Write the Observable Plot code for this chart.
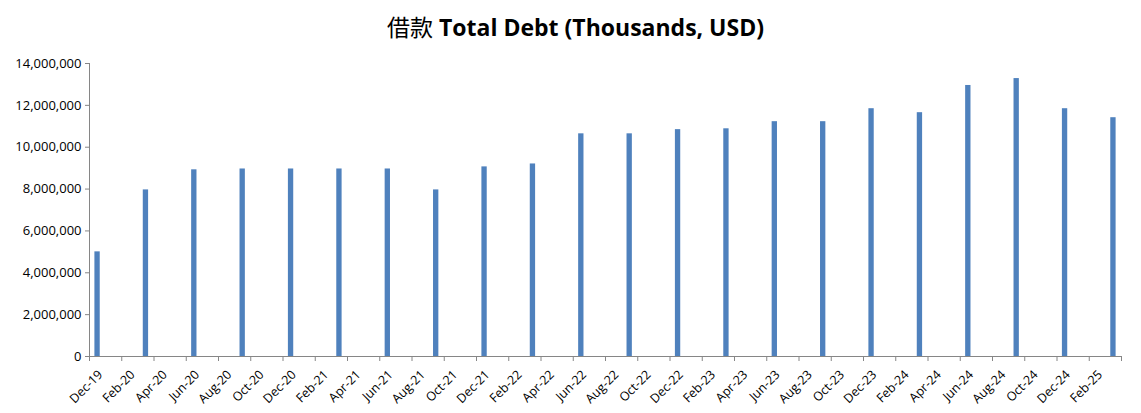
<!DOCTYPE html>
<html>
<head>
<meta charset="utf-8">
<script src="https://cdn.jsdelivr.net/npm/d3@7"></script>
<script src="https://cdn.jsdelivr.net/npm/@observablehq/plot@0.6"></script>
<style>
  html, body { margin: 0; padding: 0; background: #fff; }
  #wrap { width: 1141px; height: 413px; overflow: hidden; }
  #title { height: 52px; box-sizing: border-box; padding-top: 11px; text-align: center;
    font-family: "Open Sans", sans-serif; font-weight: bold; font-size: 23px; color: #000; line-height: 30px; padding-left: 10px; }
  #title .cjk { font-family: "Noto Sans CJK SC", sans-serif; font-weight: normal; }
</style>
</head>
<body>
<div id="wrap">
  <div id="title"><span class="cjk">借款</span> Total Debt (Thousands, USD)</div>
  <div id="chart"></div>
</div>
<script>
// Quarterly observations
const quarters = ["Dec-19","Mar-20","Jun-20","Sep-20","Dec-20","Mar-21","Jun-21","Sep-21",
  "Dec-21","Mar-22","Jun-22","Sep-22","Dec-22","Mar-23","Jun-23","Sep-23",
  "Dec-23","Mar-24","Jun-24","Sep-24","Dec-24","Mar-25"];
const totalDebt = [5000000, 7960000, 8920000, 8960000, 8960000, 8960000, 8960000, 7960000,
  9060000, 9200000, 10640000, 10640000, 10840000, 10880000, 11220000, 11220000,
  11840000, 11650000, 12950000, 13280000, 11840000, 11410000];
// Axis tick labels (every two months)
const xTickLabels = ["Dec-19","Feb-20","Apr-20","Jun-20","Aug-20","Oct-20","Dec-20","Feb-21",
  "Apr-21","Jun-21","Aug-21","Oct-21","Dec-21","Feb-22","Apr-22","Jun-22","Aug-22","Oct-22",
  "Dec-22","Feb-23","Apr-23","Jun-23","Aug-23","Oct-23","Dec-23","Feb-24","Apr-24","Jun-24",
  "Aug-24","Oct-24","Dec-24","Feb-25"];
const yTicks = [0, 2000000, 4000000, 6000000, 8000000, 10000000, 12000000, 14000000];
const firstMonth = "Dec-19";
const lastMonth = "Mar-25";

const monthNames = ["Jan","Feb","Mar","Apr","May","Jun","Jul","Aug","Sep","Oct","Nov","Dec"];
const monthNum = s => { const [m, y] = s.split("-"); return (+y) * 12 + monthNames.indexOf(m); };
const base = monthNum(firstMonth);
const idx = s => monthNum(s) - base;
const nMonths = idx(lastMonth) + 1;

const data = quarters.map((q, i) => ({q, m: idx(q), v: totalDebt[i]}));
const boundaries = d3.range(0, nMonths + 1, 2);

const font = "'Open Sans', sans-serif";
const chart = Plot.plot({
  width: 1141, height: 361,
  marginLeft: 89, marginRight: 20, marginTop: 11, marginBottom: 57,
  style: {fontFamily: font, fontSize: "12.5px", background: "#fff"},
  x: {type: "linear", domain: [0, nMonths]},
  y: {domain: [0, 14000000]},
  marks: [
    Plot.rectY(data, {x: "m", interval: 1, y: "v", insetLeft: 5.4, insetRight: 5.4, fill: "#4F81BD"}),
    Plot.axisY({ticks: yTicks, tickSize: 4, tickPadding: 4, fontSize: 13, tickFormat: d3.format(","), stroke: "#868686", fill: "#000", label: null}),
    Plot.axisX({ticks: boundaries, tickSize: 5, tickFormat: () => "", stroke: "#868686", label: null}),
    Plot.text(xTickLabels, {x: d => idx(d) + 0.5, frameAnchor: "bottom", rotate: -45, textAnchor: "end",
      lineAnchor: "middle", dx: 3, dy: 16, fontSize: 12.5, fill: "#000"}),
    Plot.ruleX([0], {stroke: "#868686"}),
    Plot.ruleY([0], {stroke: "#868686"})
  ]
});
document.getElementById("chart").appendChild(chart);
</script>
</body>
</html>
